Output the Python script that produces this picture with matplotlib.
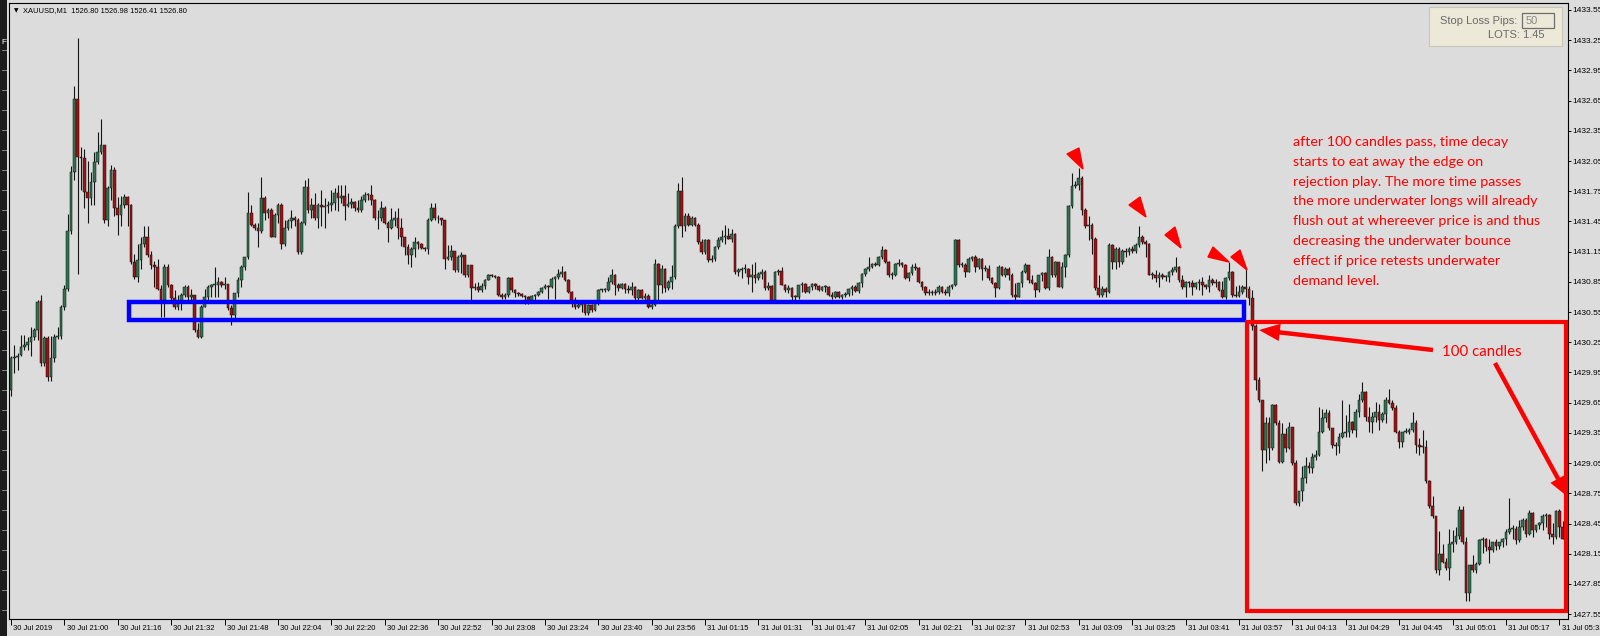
import matplotlib
matplotlib.use("Agg")
import matplotlib.pyplot as plt
import numpy as np
from matplotlib.patches import Rectangle, Polygon, FancyArrowPatch

# ---------------- data (candle values in cents above BASE_PRICE) ----------------
BASE_PRICE = 1427.00

open_cents = [
    278,309,310,312,320,322,325,330,337,366, 304,329,291,309,330,331,360,378,435,494,
    567,509,508,474,468,484,504,514,521,446, 478,496,458,451,461,469,461,405,390,407,
    423,430,412,402,400,378,367,400,382,369, 360,364,372,380,370,372,337,330,360,370,
    380,382,382,385,382,383,359,352,374,387, 400,410,453,441,438,435,468,453,456,430,
    451,461,423,438,445,448,446,415,443,479, 456,461,448,461,459,460,461,463,473,468,
    470,460,462,464,458,456,466,471,471,466, 448,448,458,443,438,446,448,438,430,420,
    412,418,425,423,419,418,446,458,448,448, 446,408,410,416,397,410,412,392,402,379,
    380,377,381,387,392,391,390,372,370,372, 389,377,374,373,371,370,366,371,372,375,
    379,381,380,388,390,393,395,387,375,367, 360,362,364,354,362,357,364,377,377,377,
    385,392,382,379,383,378,377,380,369,377, 369,371,360,362,403,382,398,379,385,390,
    440,475,440,450,441,448,441,425,415,427, 407,408,420,427,430,431,428,433,395,397,
    398,398,390,392,389,393,395,379,381,367, 395,396,382,377,379,370,370,382,383,375,
    380,383,381,377,380,380,372,370,375,370, 372,373,378,380,376,384,393,398,400,403,
    402,410,417,405,392,392,403,404,402,389, 394,400,399,385,380,374,375,374,375,380,
    375,374,380,382,427,402,402,395,408,410, 400,408,398,398,389,384,379,400,392,398,
    392,372,370,384,395,402,387,384,377,392, 394,379,410,392,405,380,400,412,460,480,
    481,488,456,440,441,428,379,372,378,375, 422,405,418,405,416,415,418,416,422,430,
    425,423,392,392,389,392,390,390,395,397, 400,387,380,385,384,380,384,385,382,380,
    387,384,385,377,370,389,395,372,371,375, 380,378,369,341,288,268,218,245,220,263,
    245,206,234,220,241,205,165,177,190,202, 200,211,213,236,250,255,240,223,222,231,
    235,236,246,238,256,268,276,251,246,251, 256,248,254,268,265,260,236,226,236,236,
    238,245,223,221,221,187,162,152,99,115, 107,101,125,127,133,158,127,76,104,99,
    105,129,130,122,119,127,123,127,130,137, 140,140,129,142,149,135,155,139,144,146,
    152,153,135,132,157,142,130,
]
high_cents = [
    311,322,314,332,332,330,340,339,367,372, 331,331,331,333,340,362,382,452,500,579,
    627,519,517,505,494,514,534,547,521,480, 501,499,469,470,472,470,462,413,423,430,
    440,440,416,406,408,382,403,403,383,377, 372,374,382,382,378,372,344,362,378,382,
    383,400,390,386,390,383,362,374,390,402, 410,474,461,443,443,489,470,458,458,453,
    463,463,446,447,456,450,448,445,486,488, 468,473,463,476,468,465,476,478,481,481,
    481,473,468,465,466,470,474,473,481,467, 456,465,460,445,458,455,458,448,430,423,
    420,430,426,424,420,448,463,463,451,448, 446,422,422,416,412,415,412,402,402,384,
    385,384,388,393,393,392,391,374,374,390, 390,378,375,374,372,371,372,373,376,380,
    383,382,390,391,398,401,396,388,376,370, 366,367,365,363,363,365,378,378,379,390,
    398,393,384,384,384,382,385,381,378,378, 374,373,364,408,404,402,399,387,402,442,
    483,489,453,453,450,449,443,428,428,428, 412,421,430,436,441,438,437,434,399,400,
    403,399,403,405,395,398,397,385,382,396, 398,400,383,382,380,372,382,385,384,381,
    384,384,382,381,382,381,375,376,376,373, 375,379,382,382,385,394,399,410,404,405,
    411,421,418,406,395,404,408,405,403,395, 403,404,400,386,381,378,377,378,382,381,
    378,382,383,428,428,405,404,410,411,412, 409,409,402,402,390,385,402,401,400,400,
    394,384,384,397,404,402,392,385,392,395, 395,418,411,406,405,405,413,461,493,485,
    498,490,458,450,443,430,392,381,380,424, 423,420,420,418,419,420,421,424,440,432,
    427,424,395,397,395,394,392,396,400,410, 401,392,386,386,387,385,388,390,383,392,
    389,388,386,386,390,405,396,381,382,382, 400,381,377,343,291,268,251,251,264,264,
    248,245,240,246,241,208,177,202,211,206, 215,218,261,259,259,258,240,226,235,268,
    253,264,247,259,274,286,277,261,256,266, 264,256,271,279,268,263,238,236,240,240,
    256,248,230,238,228,188,172,152,138,125, 111,140,139,142,162,162,132,104,114,107,
    130,132,131,130,127,130,127,131,140,170, 144,143,149,150,150,158,156,144,147,154,
    155,154,146,158,159,148,155,
]
low_cents = [
    272,294,297,311,317,317,311,327,327,301, 301,287,287,305,328,328,357,376,433,486,
    393,476,458,443,461,461,502,512,443,440, 466,450,432,440,458,440,403,388,385,398,
    420,410,398,380,377,350,350,380,367,358, 357,357,370,367,366,335,329,329,360,364,
    370,370,370,380,378,357,342,349,370,380, 397,408,440,436,420,434,446,448,430,430,
    443,418,421,436,438,440,413,413,441,453, 448,446,438,440,438,453,455,456,455,463,
    446,459,458,455,454,454,464,466,461,446, 437,445,442,425,437,440,428,421,412,403,
    400,410,418,418,416,413,445,446,443,441, 398,407,407,395,395,394,390,390,367,377,
    375,375,378,387,390,389,371,368,368,370, 375,370,371,370,363,363,365,366,371,374,
    378,368,379,368,388,390,386,374,360,358, 359,355,352,352,355,356,362,375,375,376,
    383,372,376,378,374,374,372,367,367,368, 367,359,358,361,367,374,375,377,378,388,
    438,430,435,440,440,440,423,413,413,405, 405,406,418,425,423,428,425,393,391,389,
    394,383,375,384,387,388,377,377,365,366, 392,382,375,374,367,367,368,375,374,374,
    377,378,376,376,375,371,368,369,369,368, 370,371,372,375,374,380,391,396,399,401,
    401,408,404,390,388,391,401,400,388,386, 392,397,384,377,372,372,372,372,373,374,
    372,371,378,381,400,400,390,395,406,395, 398,387,396,387,383,370,378,391,390,387,
    370,367,370,380,394,384,383,370,375,386, 378,377,390,390,380,379,390,410,458,478,
    476,451,438,427,413,377,370,370,370,374, 398,398,400,403,410,412,414,414,420,423,
    410,392,388,385,380,388,386,385,392,395, 385,378,370,380,372,378,377,372,378,375,
    382,380,376,369,368,387,370,370,370,373, 370,362,337,278,266,197,205,208,218,243,
    205,205,216,219,203,163,162,167,185,195, 195,208,212,235,246,238,220,213,215,230,
    231,231,235,231,251,266,247,236,235,246, 238,246,245,264,258,235,220,221,235,234,
    236,215,213,215,185,160,150,96,94,106, 99,89,117,125,130,125,68,68,97,96,
    104,116,118,106,117,119,120,122,124,135, 130,125,127,139,132,134,132,137,140,139,
    142,130,125,130,132,130,128,
]
close_cents = [
    309,310,311,320,322,325,330,337,365,304, 329,291,309,330,331,360,378,435,494,567,
    509,508,474,468,484,504,514,521,446,478, 496,458,451,461,469,461,405,390,407,423,
    430,412,402,400,378,367,400,382,369,360, 364,372,380,370,372,337,330,360,370,380,
    382,382,385,382,383,359,352,374,387,400, 410,453,441,438,435,468,453,456,430,451,
    461,423,438,445,448,446,415,443,479,456, 461,448,461,459,460,461,463,473,468,470,
    460,462,464,458,456,466,471,471,466,448, 448,458,443,438,446,448,438,430,420,412,
    418,425,423,419,418,446,458,448,448,446, 408,410,416,397,410,412,392,402,379,380,
    377,381,387,392,391,390,372,370,372,389, 377,374,373,371,370,366,371,372,375,379,
    381,380,388,390,393,395,387,375,367,360, 362,364,354,362,357,364,377,377,377,385,
    392,382,379,383,378,377,380,369,377,369, 371,360,362,403,382,398,379,385,390,440,
    475,440,450,441,448,441,425,415,427,407, 408,420,427,430,431,428,433,395,397,398,
    398,390,392,389,393,395,379,381,367,395, 396,382,377,379,370,370,382,383,375,380,
    383,381,377,380,380,372,370,375,370,372, 373,378,380,376,384,393,398,400,403,402,
    410,417,405,392,392,403,404,402,389,394, 400,399,385,380,374,375,374,375,380,375,
    374,380,382,427,402,402,395,408,410,400, 408,398,398,389,384,379,400,392,398,392,
    372,370,384,395,402,387,384,377,392,394, 379,410,392,405,380,400,412,460,480,481,
    488,456,440,441,428,379,372,378,375,422, 405,418,405,416,415,418,416,422,430,425,
    423,392,392,389,392,390,390,395,397,400, 387,380,385,384,380,384,385,382,380,387,
    384,385,377,370,389,395,372,371,375,380, 378,369,341,288,268,218,245,220,263,245,
    206,234,220,241,205,165,177,190,202,200, 211,213,236,250,255,240,223,222,231,235,
    236,246,238,256,268,276,251,246,251,256, 248,254,268,265,260,236,226,236,236,238,
    245,223,221,221,187,162,152,99,115,107, 101,125,127,133,158,127,76,104,99,105,
    129,130,122,119,127,123,127,130,137,140, 140,129,142,149,135,155,139,144,146,152,
    153,135,132,157,142,130,152,
]

time_labels = [
    "30 Jul 2019", "30 Jul 21:00", "30 Jul 21:16", "30 Jul 21:32", "30 Jul 21:48",
    "30 Jul 22:04", "30 Jul 22:20", "30 Jul 22:36", "30 Jul 22:52", "30 Jul 23:08",
    "30 Jul 23:24", "30 Jul 23:40", "30 Jul 23:56", "31 Jul 01:15", "31 Jul 01:31",
    "31 Jul 01:47", "31 Jul 02:05", "31 Jul 02:21", "31 Jul 02:37", "31 Jul 02:53",
    "31 Jul 03:09", "31 Jul 03:25", "31 Jul 03:41", "31 Jul 03:57", "31 Jul 04:13",
    "31 Jul 04:29", "31 Jul 04:45", "31 Jul 05:01", "31 Jul 05:17", "31 Jul 05:33",
]
price_ticks = [1427.55, 1427.85, 1428.15, 1428.45, 1428.75, 1429.05, 1429.35,
               1429.65, 1429.95, 1430.25, 1430.55, 1430.85, 1431.15, 1431.45,
               1431.75, 1432.05, 1432.35, 1432.65, 1432.95, 1433.25, 1433.55]

header_text = "XAUUSD,M1  1526.80 1526.98 1526.41 1526.80"
note_lines = [
    "after 100 candles pass, time decay",
    "starts to eat away the edge on",
    "rejection play. The more time passes",
    "the more underwater longs will already",
    "flush out at whereever price is and thus",
    "decreasing the underwater bounce",
    "effect if price retests underwater",
    "demand level.",
]
arrow_label = "100 candles"
sl_label = "Stop Loss Pips:"
sl_value = "50"
lots_label = "LOTS: 1.45"

# ---------------- figure ----------------
W, H = 1600, 636
BG = "#DCDCDC"


def fx(x):
    return x / W


def fy(y):
    return 1 - y / H


fig = plt.figure(figsize=(W / 100, H / 100), dpi=100)
fig.patch.set_facecolor(BG)

AX_L, AX_R, AX_T, AX_B = 9, 1568, 3, 619
ax = fig.add_axes([fx(AX_L), fy(AX_B), (AX_R - AX_L) / W, (AX_B - AX_T) / H])
ax.set_facecolor(BG)

o = BASE_PRICE + np.array(open_cents) / 100.0
hi = BASE_PRICE + np.array(high_cents) / 100.0
lo = BASE_PRICE + np.array(low_cents) / 100.0
c = BASE_PRICE + np.array(close_cents) / 100.0
x = np.arange(len(c))

bull = c >= o
colors = np.where(bull, "#2E7352", "#A01212")
bottom = np.minimum(o, c)
height = np.maximum(np.abs(c - o), 0.008)

ax.vlines(x, lo, hi, color="#141414", linewidth=0.8, zorder=2)
ax.bar(x, height, bottom=bottom, width=0.8, color=colors,
       edgecolor="#101010", linewidth=0.35, zorder=3)

ax.set_xlim(-0.6, 466.6)
ax.set_ylim(1427.502, 1433.619)

for s in ax.spines.values():
    s.set_color("#000000")
    s.set_linewidth(0.8)

# x ticks
xt = np.arange(len(time_labels)) * 16
ax.set_xticks(xt)
ax.set_xticklabels([])
ax.tick_params(axis="x", direction="out", length=4, width=0.7, color="#000000")
for pos, lab in zip(xt, time_labels):
    ax.annotate(lab, xy=(pos, 0), xycoords=("data", "axes fraction"),
                xytext=(1.6, -6.5), textcoords="offset points",
                ha="left", va="center", fontsize=5.5, family="Liberation Sans",
                color="#000000")

# y ticks on right
ax.yaxis.tick_right()
ax.set_yticks(price_ticks)
ax.set_yticklabels(["%.2f" % p for p in price_ticks])
ax.tick_params(axis="y", direction="out", length=2.4, width=0.7, pad=0.6,
               labelsize=6.0, color="#000000", labelcolor="#000000")
for t in ax.get_yticklabels():
    t.set_family("Liberation Sans")

# blue zone
ax.add_patch(Rectangle((35.4, 1430.471), 369.4 - 35.4, 1430.650 - 1430.471,
                       fill=False, edgecolor="#0000FF", linewidth=3.2, zorder=6,
                       clip_on=False))
# red box
ax.add_patch(Rectangle((370.4, 1427.586), 465.9 - 370.4, 1430.456 - 1427.586,
                       fill=False, edgecolor="#FF0000", linewidth=3.0, zorder=6,
                       clip_on=False))

# red arrows (figure pixel geometry)
arrow_style = "simple,head_length=1.5,head_width=1.25,tail_width=0.32"
for (x0, y0, x1, y1) in [(1433, 350, 1259, 330), (1495, 363, 1568, 497)]:
    fig.patches.append(FancyArrowPatch((fx(x0), fy(y0)), (fx(x1), fy(y1)),
                                       transform=fig.transFigure,
                                       arrowstyle=arrow_style, mutation_scale=10,
                                       color="#FF0000", linewidth=0,
                                       shrinkA=0, shrinkB=0, zorder=7))

# red triangles
tris = [
    [(1067, 154), (1079, 148), (1083, 169)],
    [(1129, 205), (1140, 197), (1146, 217)],
    [(1165, 235), (1175, 227), (1181, 248)],
    [(1208, 257), (1213, 247), (1229, 262)],
    [(1231, 257), (1240, 250), (1247, 270)],
]
for tri in tris:
    fig.patches.append(Polygon([(fx(a), fy(b)) for a, b in tri], closed=True,
                               transform=fig.transFigure, color="#FF0000",
                               zorder=7))

# notes
for k, line in enumerate(note_lines):
    fig.text(fx(1293), fy(142 + k * 19.8), line, ha="left", va="center",
             color="#FF0000", fontsize=10.3, family="Lato")
fig.text(fx(1442), fy(352), arrow_label, ha="left", va="center",
         color="#FF0000", fontsize=10.8, family="Lato")

# header
fig.text(fx(13.5), fy(10.8), "\u25BC", ha="left", va="center", fontsize=4.2,
         color="#000000", family="DejaVu Sans")
fig.text(fx(23), fy(10.8), header_text, ha="left", va="center", fontsize=5.4,
         color="#000000", family="Liberation Sans")

# stop loss panel
fig.patches.append(Rectangle((fx(1429), fy(46)), (1562 - 1429) / W, 39 / H,
                             transform=fig.transFigure, facecolor="#ECE9D8",
                             edgecolor="#C9C6B8", linewidth=0.8, zorder=8))
fig.patches.append(Rectangle((fx(1522), fy(28)), (1554 - 1522) / W, 15 / H,
                             transform=fig.transFigure, facecolor="#ECE9D8",
                             edgecolor="#6E6E6E", linewidth=0.9, zorder=9))
fig.text(fx(1517), fy(21), sl_label, ha="right", va="center", fontsize=8,
         color="#6A6A6A", family="Liberation Sans", zorder=10)
fig.text(fx(1526), fy(21), sl_value, ha="left", va="center", fontsize=8,
         color="#8A8A8A", family="Liberation Sans", zorder=10)
fig.text(fx(1544), fy(35.5), lots_label, ha="right", va="center", fontsize=8,
         color="#6A6A6A", family="Liberation Sans", zorder=10)

# dark strip at the far left (neighbouring window edge)
fig.patches.append(Rectangle((0, 0), 7 / W, 1, transform=fig.transFigure,
                             facecolor="#1C1C1C", edgecolor="none", zorder=1))
for yy in range(50, 620, 20):
    fig.lines.append(plt.Line2D([fx(2), fx(6)], [fy(yy), fy(yy)],
                                transform=fig.transFigure, color="#9A9A9A",
                                linewidth=0.6, zorder=2))
fig.text(fx(1), fy(42), "F", ha="left", va="center", fontsize=6,
         color="#FFFFFF", family="Liberation Sans")

fig.savefig("out.png", dpi=100, facecolor=fig.get_facecolor())
